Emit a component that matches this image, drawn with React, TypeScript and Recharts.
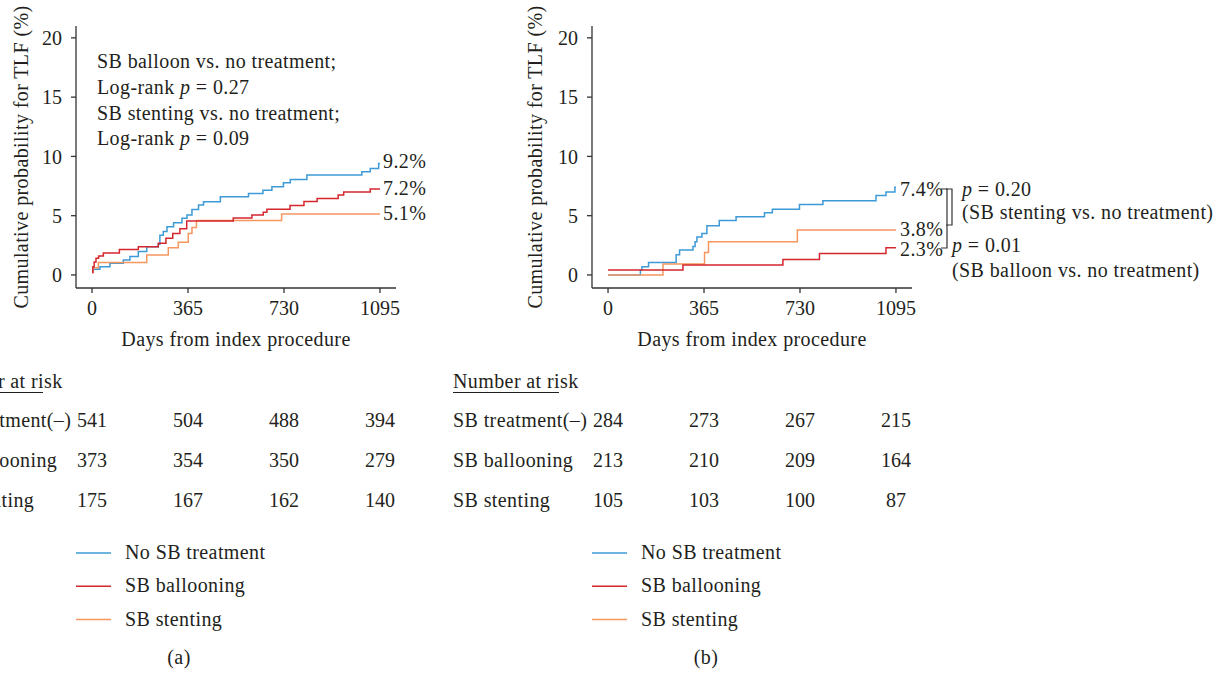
import React from 'react';
import { LineChart, Line, XAxis, YAxis } from 'recharts';

const FONT = '"Liberation Serif", "Times New Roman", serif';
const INK = '#231f20';
const AXIS = '#333333';
const BLUE = '#3d9ad6';
const RED = '#d4272e';
const ORANGE = '#f5975e';

const dayTicks = [0, 365, 730, 1095];
const pctTicks = [0, 5, 10, 15, 20];

// panel (a) step curves: [day, cumulative %]
const aNoTreatment: [number, number][] = [
  [0, 0.28], [5, 0.48], [30, 0.7], [68, 0.98], [119, 1.27], [144, 1.55], [176, 1.97], [208, 2.39],
  [252, 2.6], [258, 3.35], [271, 3.66], [285, 4.07], [310, 4.41], [342, 4.78], [361, 5.06],
  [380, 5.53], [405, 5.9], [424, 6.18], [488, 6.6], [595, 6.88], [650, 7.15], [684, 7.44],
  [728, 7.78], [754, 8.06], [817, 8.43], [1026, 8.71], [1058, 8.99], [1090, 9.41], [1095, 9.41],
];
const aBallooning: [number, number][] = [
  [0, 0.2], [3, 0.7], [8, 1.1], [15, 1.4], [25, 1.6], [43, 1.86], [104, 2.14], [176, 2.39],
  [252, 2.67], [281, 3.1], [307, 3.5], [334, 3.9], [360, 4.55], [537, 4.8], [608, 5.05],
  [651, 5.3], [665, 5.55], [753, 5.85], [806, 6.2], [856, 6.45], [936, 6.75], [957, 7.0],
  [1058, 7.25], [1095, 7.25],
];
const aStenting: [number, number][] = [
  [0, 0.2], [4, 0.6], [24, 1.05], [208, 1.69], [290, 2.3], [328, 2.75], [366, 3.5],
  [380, 4.0], [397, 4.6], [721, 5.15], [1095, 5.15],
];

// panel (b)
const bNoTreatment: [number, number][] = [
  [0, 0], [123, 0.4], [129, 0.7], [154, 1.05], [259, 1.7], [272, 2.1], [323, 2.4], [331, 2.8],
  [338, 3.2], [357, 3.5], [376, 4.15], [423, 4.6], [487, 4.9], [595, 5.25], [625, 5.55],
  [728, 5.95], [817, 6.25], [1019, 6.7], [1057, 7.0], [1091, 7.4], [1095, 7.4],
];
const bBallooning: [number, number][] = [
  [0, 0.42], [285, 0.85], [665, 1.3], [804, 1.8], [1057, 2.3], [1095, 2.3],
];
const bStenting: [number, number][] = [
  [0, 0], [209, 0.93], [367, 1.9], [382, 2.8], [720, 3.8], [1095, 3.8],
];

const seriesNames = ['No SB treatment', 'SB ballooning', 'SB stenting'];
const seriesColors = [BLUE, RED, ORANGE];
const riskRows = ['SB treatment(\u2013)', 'SB ballooning', 'SB stenting'];
const aRisk = [
  [541, 504, 488, 394],
  [373, 354, 350, 279],
  [175, 167, 162, 140],
];
const bRisk = [
  [284, 273, 267, 215],
  [213, 210, 209, 164],
  [105, 103, 100, 87],
];
const aEndLabels = ['9.2%', '7.2%', '5.1%'];

const toRows = (pts: [number, number][]) => pts.map(([day, v]) => ({ day, v }));

// plot geometry shared by both panels
const CH_W = 420;
const CH_H = 340;
const MARGIN = { top: 26, right: 24, bottom: 22, left: 36 };
const DOMAIN_X: [number, number] = [-61, 1156];
const PLOT_L = 76;
const PLOT_W = CH_W - MARGIN.right - PLOT_L;
const dayX = (d: number) => PLOT_L + ((d - DOMAIN_X[0]) / (DOMAIN_X[1] - DOMAIN_X[0])) * PLOT_W;
const B_OFF = 516;

const tickStyle = { fill: INK, fontSize: 20, fontFamily: FONT };

const Panel = ({ curves }: { curves: [number, number][][] }) => (
  <LineChart width={CH_W} height={CH_H} margin={MARGIN}>
    <XAxis
      type="number"
      dataKey="day"
      domain={DOMAIN_X}
      ticks={dayTicks}
      allowDataOverflow
      height={30}
      tick={tickStyle}
      tickSize={5}
      tickMargin={8}
      axisLine={{ stroke: AXIS, strokeWidth: 1.3 }}
      tickLine={{ stroke: AXIS, strokeWidth: 1.3 }}
    />
    <YAxis
      type="number"
      domain={[-1.1, 21]}
      ticks={pctTicks}
      allowDataOverflow
      width={40}
      tick={tickStyle}
      tickSize={5}
      tickMargin={9}
      axisLine={{ stroke: AXIS, strokeWidth: 1.3 }}
      tickLine={{ stroke: AXIS, strokeWidth: 1.3 }}
    />
    {[0, 2, 1].map((i) => (
      <Line
        key={i}
        data={toRows(curves[i])}
        dataKey="v"
        type="stepAfter"
        stroke={seriesColors[i]}
        strokeWidth={1.5}
        dot={false}
        activeDot={false}
        isAnimationActive={false}
      />
    ))}
  </LineChart>
);

const Pee = () => <tspan fontStyle="italic">p</tspan>;

const Overlay = () => {
  const risk = (off: number, table: number[][]) => (
    <g>
      <text x={453 - B_OFF + off} y={388}>Number at risk</text>
      <line x1={453 - B_OFF + off} x2={559 - B_OFF + off} y1={392.5} y2={392.5} stroke={INK} strokeWidth={1} />
      {riskRows.map((r, i) => (
        <g key={r}>
          <text x={453 - B_OFF + off} y={427 + i * 40}>{r}</text>
          {table[i].map((n, j) => (
            <text key={j} x={dayX(dayTicks[j]) + off} y={427 + i * 40} textAnchor="middle" letterSpacing={0}>{n}</text>
          ))}
        </g>
      ))}
    </g>
  );
  const legend = (off: number, tag: string, tagX: number) => (
    <g>
      {seriesNames.map((s, i) => (
        <g key={s}>
          <line x1={76 + off} x2={111 + off} y1={553 + i * 33.3} y2={553 + i * 33.3} stroke={seriesColors[i]} strokeWidth={1.5} />
          <text x={125 + off} y={559 + i * 33.3}>{s}</text>
        </g>
      ))}
      <text x={tagX} y={664} textAnchor="middle">{tag}</text>
    </g>
  );
  return (
    <svg width={1227} height={673} style={{ position: 'absolute', left: 0, top: 0, pointerEvents: 'none' }}
      fontFamily={FONT} fontSize={20} fill={INK} letterSpacing={0.4}>
      {/* axis titles */}
      <text transform="translate(28,157) rotate(-90)" textAnchor="middle">Cumulative probability for TLF (%)</text>
      <text transform="translate(541.5,157) rotate(-90)" textAnchor="middle">Cumulative probability for TLF (%)</text>
      <text x={236} y={346} textAnchor="middle">Days from index procedure</text>
      <text x={752} y={346} textAnchor="middle">Days from index procedure</text>

      {/* panel (a) annotations */}
      <text x={97} y={68}>SB balloon vs. no treatment;</text>
      <text x={97} y={94}>Log-rank <Pee /> = 0.27</text>
      <text x={97} y={119.5}>SB stenting vs. no treatment;</text>
      <text x={97} y={145}>Log-rank <Pee /> = 0.09</text>
      {aEndLabels.map((t, i) => (
        <text key={t} x={383} y={[168, 195, 220][i]}>{t}</text>
      ))}

      {/* panel (b) annotations */}
      <text x={900} y={196}>7.4%</text>
      <text x={900} y={236}>3.8%</text>
      <text x={900} y={256}>2.3%</text>
      <path d="M 946 189 H 952 V 225 H 946" fill="none" stroke={AXIS} strokeWidth={1.2} />
      <path d="M 941 189 H 947 V 248 H 941" fill="none" stroke={AXIS} strokeWidth={1.2} />
      <text x={962} y={196}><Pee /> = 0.20</text>
      <text x={962} y={219}>(SB stenting vs. no treatment)</text>
      <text x={952} y={252}><Pee /> = 0.01</text>
      <text x={952} y={277}>(SB balloon vs. no treatment)</text>

      {risk(0, aRisk)}
      {risk(B_OFF, bRisk)}
      {legend(0, '(a)', 179)}
      {legend(B_OFF, '(b)', 706)}
    </svg>
  );
};

export default function App() {
  return (
    <div style={{ position: 'absolute', left: 0, top: 0, width: 1227, height: 673, background: '#fff', overflow: 'hidden' }}>
      <div style={{ position: 'absolute', left: 0, top: 0 }}>
        <Panel curves={[aNoTreatment, aBallooning, aStenting]} />
      </div>
      <div style={{ position: 'absolute', left: B_OFF, top: 0 }}>
        <Panel curves={[bNoTreatment, bBallooning, bStenting]} />
      </div>
      <Overlay />
    </div>
  );
}
